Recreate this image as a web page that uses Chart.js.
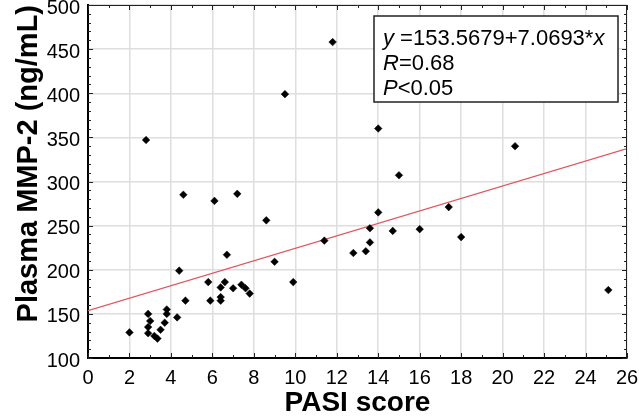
<!DOCTYPE html>
<html>
<head>
<meta charset="utf-8">
<script src="https://cdn.jsdelivr.net/npm/chart.js@4.4.1/dist/chart.umd.min.js"></script>
<style>
    body { margin: 0; background: #fff; }
    #wrap { width: 639px; height: 420px; position: relative; }
</style>
</head>
<body>
<div id="wrap"><canvas id="scatterChart"></canvas></div>
<script>
// PASI score (x) vs plasma MMP-2 (y)
const pasiScores = [2.0, 2.8, 2.9, 3.0, 2.9, 2.9, 3.2, 3.35, 3.5, 3.7, 3.8, 3.8, 4.3, 4.4, 4.6, 4.7,
    5.8, 5.9, 6.1, 6.4, 6.4, 6.4, 6.6, 6.7, 7.0, 7.2, 7.4, 7.6, 7.8, 8.6, 9.0, 9.5, 9.9,
    11.4, 11.8, 12.8, 13.4, 13.6, 13.6, 14.0, 14.0, 14.7, 15.0, 16.0, 17.4, 18.0, 20.6, 25.1];
const mmp2Levels = [129, 347, 150, 142, 135, 128, 125, 122, 132, 140, 150, 155, 146, 199, 285, 165,
    186, 165, 278, 180, 169, 165, 186, 217, 179, 286, 183, 179, 173, 256, 209, 399, 186,
    233, 458, 219, 221, 231, 247, 265, 360, 244, 307, 246, 271, 237, 340, 177];

const xRange = [0, 26];
const yRange = [100, 500];

// regression reported in the figure
const fitIntercept = 153.5679;
const fitSlope = 7.0693;
const statLines = [
    [{ t: 'y', i: true }, { t: ' =153.5679+7.0693*', i: false }, { t: 'x', i: true }],
    [{ t: 'R', i: true }, { t: '=0.68', i: false }],
    [{ t: 'P', i: true }, { t: '<0.05', i: false }]
];

const FONT = "'Liberation Sans', Arial, sans-serif";

const points = pasiScores.map((x, i) => ({ x: x, y: mmp2Levels[i] }));
const fitPoints = xRange.map(x => ({ x: x, y: fitIntercept + fitSlope * x }));

/**
 * Thin top/right frame plus the small inward tick marks on all four sides
 */
const framePlugin = {
    id: 'frame',
    afterDatasetsDraw(chart) {
        const { ctx, chartArea: a, scales } = chart;
        ctx.save();
        ctx.strokeStyle = '#222';
        ctx.lineWidth = 1;
        ctx.beginPath();
        ctx.moveTo(a.left, a.top + 0.5);
        ctx.lineTo(a.right - 0.5, a.top + 0.5);
        ctx.lineTo(a.right - 0.5, a.bottom);
        ctx.stroke();

        ctx.beginPath();
        for (let v = xRange[0]; v <= xRange[1]; v += 1) {
            const px = Math.round(scales.x.getPixelForValue(v)) + 0.5;
            const len = v % 2 === 0 ? 5 : 3;
            ctx.moveTo(px, a.bottom); ctx.lineTo(px, a.bottom - len);
            ctx.moveTo(px, a.top); ctx.lineTo(px, a.top + len);
        }
        for (let v = yRange[0]; v <= yRange[1]; v += 10) {
            const py = Math.round(scales.y.getPixelForValue(v)) + 0.5;
            const len = v % 50 === 0 ? 5 : 3;
            ctx.moveTo(a.left, py); ctx.lineTo(a.left + len, py);
            ctx.moveTo(a.right, py); ctx.lineTo(a.right - len, py);
        }
        ctx.stroke();
        ctx.restore();
    }
};

/**
 * Boxed regression summary in the upper right
 */
const statBoxPlugin = {
    id: 'statBox',
    afterDraw(chart) {
        const ctx = chart.ctx;
        const box = { left: 374, top: 16, right: 618, bottom: 102 };
        ctx.save();
        ctx.fillStyle = '#fff';
        ctx.fillRect(box.left, box.top, box.right - box.left, box.bottom - box.top);
        ctx.strokeStyle = '#222';
        ctx.lineWidth = 1.5;
        ctx.strokeRect(box.left, box.top, box.right - box.left, box.bottom - box.top);
        ctx.fillStyle = '#000';
        ctx.textBaseline = 'alphabetic';
        statLines.forEach((parts, row) => {
            let x = box.left + 9;
            const y = box.top + 29 + row * 25;
            parts.forEach(p => {
                ctx.font = (p.i ? 'italic ' : '') + '22px ' + FONT;
                ctx.fillText(p.t, x, y);
                x += ctx.measureText(p.t).width;
            });
        });
        ctx.restore();
    }
};

function renderScatter() {
    const ctx = document.getElementById('scatterChart').getContext('2d');
    new Chart(ctx, {
        type: 'scatter',
        data: {
            datasets: [{
                label: 'Patients',
                data: points,
                backgroundColor: '#000',
                borderColor: '#000',
                pointStyle: 'rectRot',
                pointRadius: 3.8,
                borderWidth: 0.5,
                order: 1
            }, {
                type: 'line',
                label: 'Linear fit',
                data: fitPoints,
                borderColor: '#e0585d',
                borderWidth: 1.3,
                pointRadius: 0,
                fill: false,
                order: 2
            }]
        },
        options: {
            responsive: true,
            maintainAspectRatio: false,
            animation: false,
            layout: { padding: { top: 5, right: 12, left: 0, bottom: 0 } },
            plugins: {
                legend: { display: false },
                tooltip: { enabled: false }
            },
            scales: {
                x: {
                    type: 'linear',
                    min: xRange[0],
                    max: xRange[1],
                    grid: { color: '#dedede', lineWidth: 1.5, drawTicks: false },
                    border: { display: true, color: '#000', width: 2 },
                    ticks: {
                        stepSize: 2,
                        padding: 8,
                        color: '#000',
                        font: { family: FONT, size: 20 },
                        maxRotation: 0
                    },
                    title: {
                        display: true,
                        text: 'PASI score',
                        color: '#000',
                        font: { family: FONT, size: 28, weight: 'bold' },
                        padding: { top: 0, bottom: 0 }
                    },
                    afterFit(scale) {
                        scale.height = 62;
                        scale.paddingLeft = 0;
                        scale.paddingRight = 0;
                    }
                },
                y: {
                    type: 'linear',
                    min: yRange[0],
                    max: yRange[1],
                    grid: { color: '#dedede', lineWidth: 1.5, drawTicks: false },
                    border: { display: true, color: '#000', width: 2 },
                    ticks: {
                        stepSize: 50,
                        padding: 8,
                        labelOffset: 3,
                        color: '#000',
                        font: { family: FONT, size: 20 }
                    },
                    title: {
                        display: true,
                        align: 'end',
                        text: 'Plasma MMP-2 (ng/mL)',
                        color: '#000',
                        font: { family: FONT, size: 29, weight: 'bold' },
                        padding: { top: 12, bottom: 0 }
                    },
                    afterFit(scale) {
                        scale.width = 88;
                        scale.paddingTop = 0;
                        scale.paddingBottom = 0;
                    }
                }
            }
        },
        plugins: [framePlugin, statBoxPlugin]
    });
}

window.addEventListener('DOMContentLoaded', renderScatter);
</script>
</body>
</html>
